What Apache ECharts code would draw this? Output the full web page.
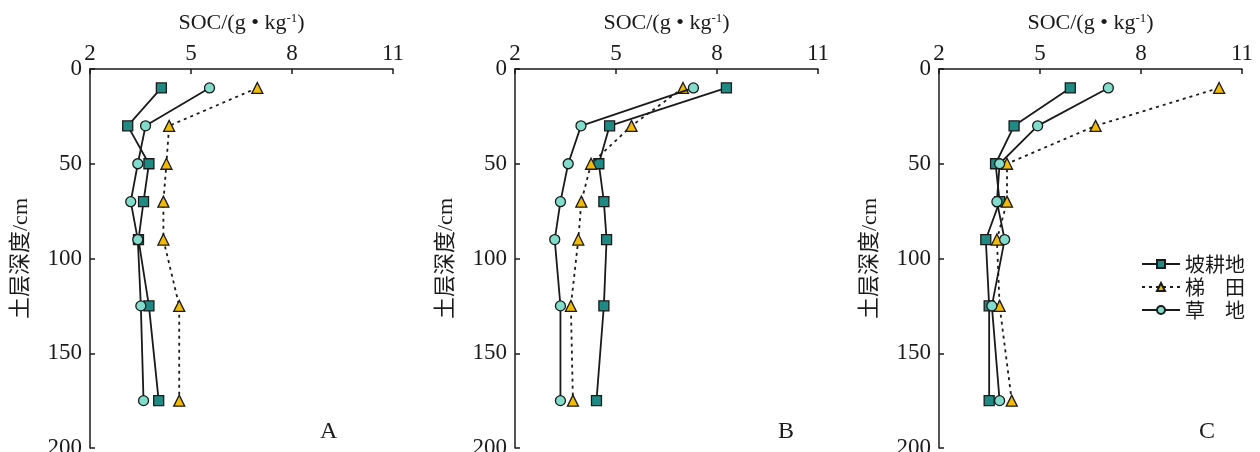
<!DOCTYPE html>
<html><head><meta charset="utf-8">
<script src="https://cdn.jsdelivr.net/npm/echarts@6/dist/echarts.min.js"></script>
<style>html,body{margin:0;padding:0;background:#fff}#c{width:1260px;height:452px}</style>
</head><body><div id="c"></div>
<script>
const depths = [10, 30, 50, 70, 90, 125, 175];
const xTicks = [2, 5, 8, 11];
const yTicks = [0, 50, 100, 150, 200];
const seriesNames = ['坡耕地', '梯田', '草地'];
const legendLabels = ['坡耕地', '梯　田', '草　地'];
const panelLabels = ['A', 'B', 'C'];
// SOC values per panel: [slope farmland, terrace, grassland]
const socA_slope   = [4.12, 3.12, 3.75, 3.59, 3.44, 3.75, 4.04];
const socA_terrace = [6.97, 4.35, 4.27, 4.18, 4.18, 4.65, 4.65];
const socA_grass   = [5.55, 3.65, 3.42, 3.21, 3.42, 3.51, 3.59];
const socB_slope   = [8.28, 4.81, 4.49, 4.64, 4.72, 4.64, 4.42];
const socB_terrace = [6.99, 5.46, 4.26, 3.97, 3.88, 3.66, 3.72];
const socB_grass   = [7.30, 3.96, 3.58, 3.35, 3.18, 3.35, 3.35];
const socC_slope   = [5.90, 4.23, 3.68, 3.80, 3.39, 3.49, 3.49];
const socC_terrace = [10.32, 6.65, 4.02, 4.02, 3.72, 3.80, 4.16];
const socC_grass   = [7.03, 4.93, 3.80, 3.72, 3.95, 3.57, 3.80];

const panels = [
  [socA_slope, socA_terrace, socA_grass],
  [socB_slope, socB_terrace, socB_grass],
  [socC_slope, socC_terrace, socC_grass]
];
const gridLefts = [90, 515, 939];
const GRID_W = 303;
const SERIF = '"Liberation Serif","Times New Roman",serif';
const CJK = '"Noto Sans CJK SC",sans-serif';
const styles = [
  {symbol: 'rect', size: 10, fill: '#1f8a84', dash: 'solid'},
  {symbol: 'triangle', size: 11, fill: '#f2bb00', dash: [3, 4]},
  {symbol: 'circle', size: 10, fill: '#82dccb', dash: 'solid'}
];

const grids = [], xAxes = [], yAxes = [], series = [], graphics = [];
panels.forEach((p, i) => {
  grids.push({left: gridLefts[i], width: GRID_W, top: 69, bottom: 4, outerBoundsMode: 'none', containLabel: false});
  xAxes.push({
    type: 'value', gridIndex: i, position: 'top', min: xTicks[0], max: xTicks[xTicks.length-1], interval: 3,
    axisLine: {lineStyle: {color: '#1a1a1a', width: 1.5}},
    axisTick: {inside: true, length: 5, lineStyle: {color: '#1a1a1a', width: 1.5}},
    axisLabel: {color: '#1a1a1a', fontFamily: SERIF, fontSize: 23, margin: 4},
    splitLine: {show: false},
    name: 'SOC/(g • kg{sup|-1})', nameLocation: 'middle', nameGap: 34,
    nameTextStyle: {color: '#1a1a1a', fontFamily: SERIF, fontSize: 22,
      rich: {sup: {fontFamily: SERIF, fontSize: 13, verticalAlign: 'top', color: '#1a1a1a', padding: [0, 0, 10, 0]}}}
  });
  yAxes.push({
    type: 'value', gridIndex: i, inverse: true, min: yTicks[0], max: yTicks[yTicks.length-1], interval: 50,
    axisLine: {lineStyle: {color: '#1a1a1a', width: 1.5}},
    axisTick: {inside: true, length: 5, lineStyle: {color: '#1a1a1a', width: 1.5}},
    axisLabel: {color: '#1a1a1a', fontFamily: SERIF, fontSize: 23, margin: 8},
    splitLine: {show: false},
    name: '土层深度/cm', nameLocation: 'middle', nameGap: 58, nameRotate: 90,
    nameTextStyle: {color: '#1a1a1a', fontFamily: SERIF + ',' + CJK, fontSize: 22}
  });
  p.forEach((vals, k) => {
    const st = styles[k];
    series.push({
      type: 'line', name: seriesNames[k], xAxisIndex: i, yAxisIndex: i,
      data: vals.map((v, j) => [v, depths[j]]),
      symbol: st.symbol, symbolSize: st.size,
      itemStyle: {color: st.fill, borderColor: '#1a1a1a', borderWidth: 1.3},
      lineStyle: {color: '#1a1a1a', width: 1.8, type: st.dash},
      showSymbol: true, animation: false, z: 2 + k
    });
  });
  graphics.push({type: 'text', left: [320, 778, 1199][i], top: 420,
    style: {text: panelLabels[i], font: '24px ' + SERIF, fill: '#1a1a1a'}});
});

const chart = echarts.init(document.getElementById('c'));
chart.setOption({
  animation: false,
  grid: grids, xAxis: xAxes, yAxis: yAxes, series: series, graphic: graphics,
  legend: {
    data: seriesNames, left: 1136, top: 249, orient: 'vertical', itemWidth: 38, itemHeight: 10, itemGap: 3,
    formatter: n => legendLabels[seriesNames.indexOf(n)],
    textStyle: {fontFamily: CJK, fontSize: 20, color: '#1a1a1a'}
  }
});
</script></body></html>
